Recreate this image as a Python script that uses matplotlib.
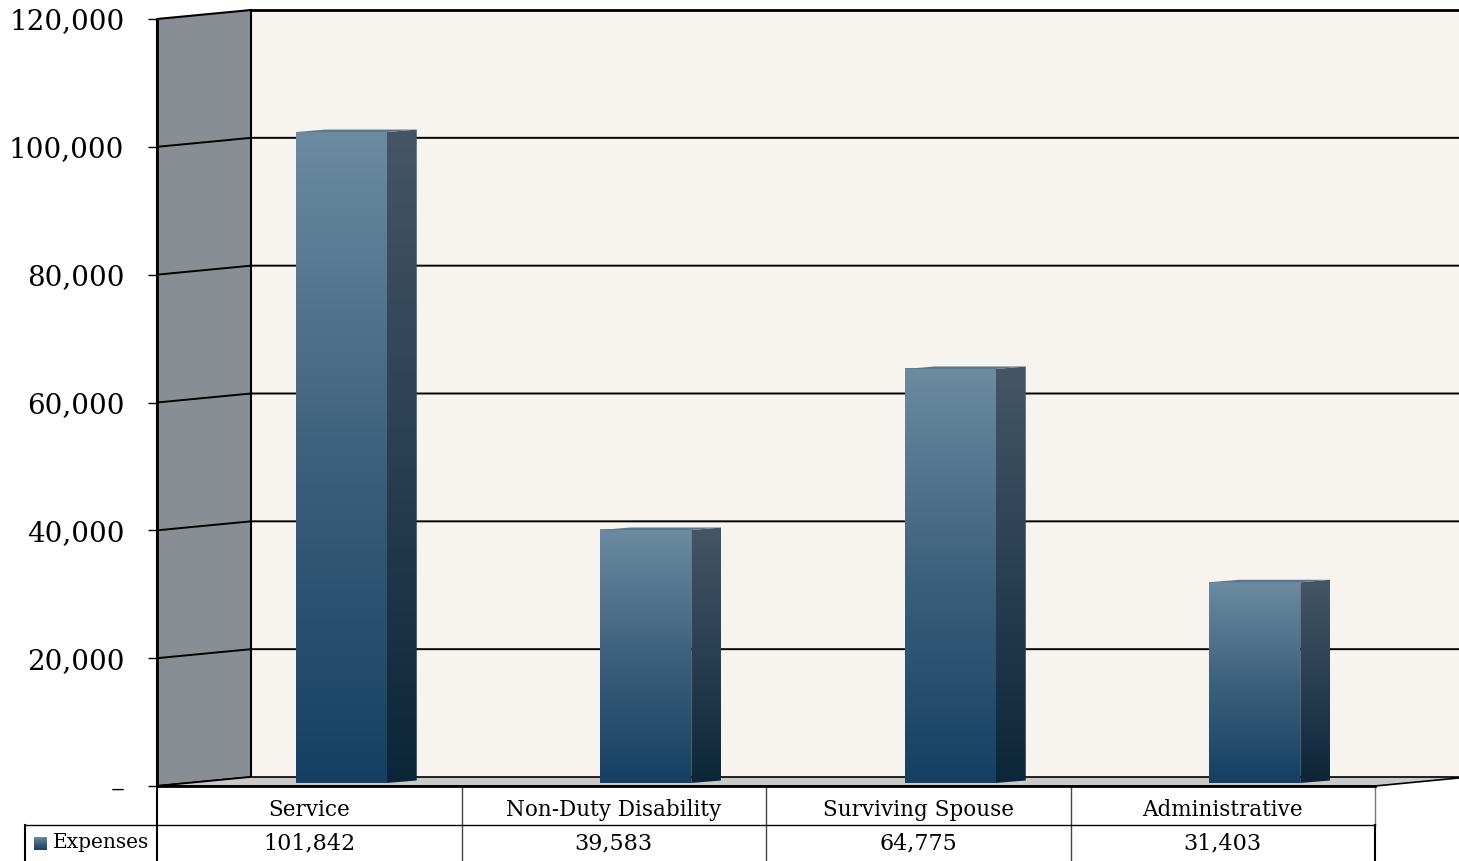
import numpy as np
import matplotlib.pyplot as plt
import matplotlib.transforms as mtransforms
from matplotlib.patches import Polygon, Rectangle
from matplotlib.colors import LinearSegmentedColormap

#%% data
categories = ['Service', 'Non-Duty Disability', 'Surviving Spouse', 'Administrative']
expenses = [101842, 39583, 64775, 31403]
expense_labels = ['101,842', '39,583', '64,775', '31,403']
series_name = 'Expenses'
yticks = [0, 20000, 40000, 60000, 80000, 100000, 120000]
ytick_labels = ['–', '20,000', '40,000', '60,000', '80,000', '100,000', '120,000']

#%% setup
W, H = 1459, 861
plt.rcParams['font.family'] = 'DejaVu Serif'
fig = plt.figure(figsize=(W / 100, H / 100), dpi=100)
ax = fig.add_axes([157 / W, 75 / H, 1218 / W, 767 / H])
ax.set_xlim(-0.5, 3.5)
ax.set_ylim(0, 120000)

# pixel -> data helpers for the fake 3d depth
px_x = 1218 / 4
px_y = 767 / 120000
def dx(p):
    return p / px_x
def dy(p):
    return p / px_y

DX, DY = dx(94), dy(9)          # back wall offset
BX, BY = dx(32), dy(3)          # bar front face offset
SX, SY = dx(30), dy(2.5)        # bar depth
bw = dx(91)                     # bar width

front_cmap = LinearSegmentedColormap.from_list('f', ['#144063', '#3d607c', '#6c8ba1'])
side_cmap = LinearSegmentedColormap.from_list('s', ['#0b2638', '#293f53', '#445666'])
grad = np.linspace(0, 1, 256).reshape(-1, 1)

#%% walls
ax.add_patch(Rectangle((-0.5 + DX, DY), 4, 120000, fc='#f7f3ee', ec='none',
                       zorder=0, clip_on=False))
ax.plot([-0.5 + DX, 3.5 + DX], [120000 + DY] * 2, color='black', lw=2,
        clip_on=False, zorder=1)
ax.add_patch(Polygon([(-0.5, 0), (-0.5, 120000), (-0.5 + DX, 120000 + DY),
                      (-0.5 + DX, DY)], closed=True, fc='#898e95', ec='black',
                     lw=1.5, zorder=1, clip_on=False))
ax.add_patch(Polygon([(-0.5, 0), (3.5, 0), (3.5 + DX, DY), (-0.5 + DX, DY)],
                     closed=True, fc='#c9c9c9', ec='black', lw=1.2, zorder=1,
                     clip_on=False))
for v in yticks[1:-1]:
    ax.plot([-0.5, -0.5 + DX, 3.5 + DX], [v, v + DY, v + DY], color='black',
            lw=1.4, zorder=2, clip_on=False)

#%% bars
for i, v in enumerate(expenses):
    x0 = i + BX - bw / 2
    x1 = x0 + bw
    ax.imshow(grad, cmap=front_cmap, origin='lower', aspect='auto',
              extent=(x0, x1, BY, BY + v), zorder=4, interpolation='bilinear')
    side = Polygon([(x1, BY), (x1 + SX, BY + SY), (x1 + SX, BY + SY + v),
                    (x1, BY + v)], closed=True, fc='none', ec='none', zorder=4)
    ax.add_patch(side)
    im = ax.imshow(grad, cmap=side_cmap, origin='lower', aspect='auto',
                   extent=(x1, x1 + SX, BY, BY + SY + v), zorder=4,
                   interpolation='bilinear')
    im.set_clip_path(side)
    ax.add_patch(Polygon([(x0, BY + v), (x1, BY + v), (x1 + SX, BY + v + SY),
                          (x0 + SX, BY + v + SY)], closed=True, fc='#5c778b',
                         ec='none', zorder=5))
ax.set_xlim(-0.5, 3.5)
ax.set_ylim(0, 120000)

#%% axes styling
for s in ['top', 'right']:
    ax.spines[s].set_visible(False)
ax.spines['left'].set_linewidth(2)
ax.spines['bottom'].set_linewidth(2)
ax.spines['left'].set_zorder(6)
ax.spines['bottom'].set_zorder(6)
ax.set_xticks([])
ax.set_yticks(yticks)
ax.set_yticklabels(ytick_labels, fontsize=20)
ax.tick_params(axis='y', direction='out', length=6.5, width=1, pad=17)

#%% data table
tr = ax.get_xaxis_transform()
def ya(p):
    return (786 - p) / 767
xl = -0.5 + (25 - 157) / px_x
ax.plot([-0.5, -0.5], [ya(786), ya(861)], color='black', lw=1.5, transform=tr, clip_on=False)
for b in [0.5, 1.5, 2.5]:
    ax.plot([b, b], [ya(786), ya(861)], color='#444444', lw=1, transform=tr, clip_on=False)
ax.plot([3.5, 3.5], [ya(786), ya(825)], color='#777777', lw=1, transform=tr, clip_on=False)
ax.plot([3.5, 3.5], [ya(825), ya(861)], color='black', lw=1.5, transform=tr, clip_on=False)
ax.plot([xl, 3.5], [ya(825), ya(825)], color='black', lw=1, transform=tr, clip_on=False)
ax.plot([xl, xl], [ya(825), ya(861)], color='black', lw=1.5, transform=tr, clip_on=False)
for i, (c, lab) in enumerate(zip(categories, expense_labels)):
    ax.text(i, ya(810), c, ha='center', va='center', fontsize=15.5, transform=tr)
    ax.text(i, ya(843), lab, ha='center', va='center', fontsize=16, transform=tr)
ax.text(xl + dx(28), ya(843), series_name, ha='left', va='center', fontsize=14.5,
        transform=tr)

lax = fig.add_axes([34 / W, (861 - 850) / H, 13 / W, 13 / H])
lax.imshow(grad, cmap=front_cmap, origin='lower', aspect='auto')
lax.axis('off')

fig.savefig('out.png', dpi=100)
